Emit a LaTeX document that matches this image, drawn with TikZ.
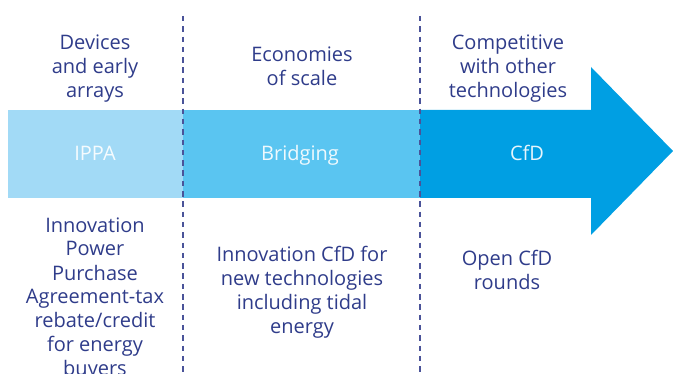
\documentclass[tikz,border=0pt]{standalone}
\usepackage{fontspec}
\setmainfont{Open Sans}
\begin{document}
\begin{tikzpicture}[x=1pt,y=-1pt,
  every node/.style={inner sep=0pt, outer sep=0pt},
  % multi-line labels: the base anchor sits on the baseline of the last line
  lbl/.style={align=center, anchor=base, text=navy,
    font=\fontsize{20}{24}\selectfont},
  bandtext/.style={text=white, text opacity=0.9, anchor=base,
    font=\fontsize{20}{24}\selectfont},
  divider/.style={draw=divcol, line width=2pt, dash pattern=on 5.5pt off 4.8pt}]
\definecolor{navy}{HTML}{2F3C8A}
\definecolor{divcol}{HTML}{4A5399}
\definecolor{bandA}{HTML}{A2DAF6}
\definecolor{bandB}{HTML}{5AC5F1}
\definecolor{bandC}{HTML}{009FE3}
\useasboundingbox (0,0) rectangle (673,374);

% stage bands and the final arrow
\fill[bandA] (8,110) rectangle (183,198);
\fill[bandB] (183,110) rectangle (420,198);
\fill[bandC] (420,110) -- (591,110) -- (591,67) -- (673,151)
  -- (591,235) -- (591,198) -- (420,198) -- cycle;

% stage dividers
\coordinate (d1top) at (183,16);
\coordinate (d1bot) at (183,374);
\coordinate (d2top) at (420,16);
\coordinate (d2bot) at (420,374);
\draw[divider] (d1top) -- (d1bot);
\draw[divider] (d2top) -- (d2bot);

% labels inside the bands
\node[bandtext] (ippa) at (95,161) {IPPA};
\node[bandtext] (bridging) at (300,161) {Bridging};
\node[bandtext] (cfd) at (527,161) {CfD};

% stage descriptions above
\node[lbl] (devices) at (95,98) {Devices\\and early\\arrays};
\node[lbl] (scale) at (302,86) {Economies\\of scale};
\node[lbl] (compet) at (508,98) {Competitive\\with other\\technologies};

% support mechanisms below
\node[lbl] (ippadesc) at (95,376) {Innovation\\Power\\Purchase\\Agreement-tax\\rebate/credit\\for energy\\buyers};
\node[lbl] (innocfd) at (302,334) {Innovation CfD for\\new technologies\\including tidal\\energy};
\node[lbl] (opencfd) at (507,290) {Open CfD\\rounds};
\end{tikzpicture}
\end{document}
